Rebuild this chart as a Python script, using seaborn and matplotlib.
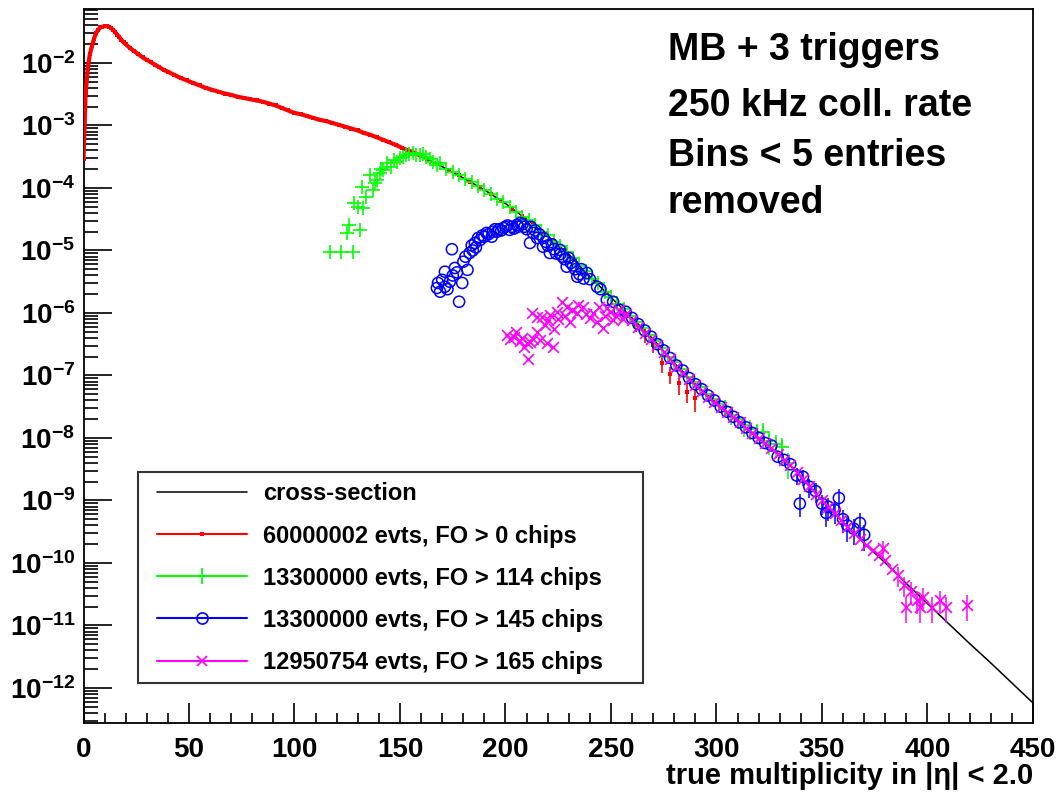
import numpy as np
import pandas as pd
import matplotlib
matplotlib.use("Agg")
import matplotlib.pyplot as plt
import seaborn as sns
from matplotlib.lines import Line2D
from matplotlib.patches import Rectangle
from matplotlib.ticker import FixedLocator, FixedFormatter, NullFormatter, MultipleLocator

# ---------------- data (stored as log10) ----------------
xsec_x = [0, 1, 2, 3, 4, 5, 6, 7, 8, 10, 12, 14, 16, 18, 20,
          25, 30, 35, 40, 45, 50, 55, 60, 65, 70, 75, 80, 85, 90, 95, 100,
          110, 120, 130, 140, 150, 160, 170, 180, 190, 200, 210, 220, 230, 240, 250,
          260, 270, 280, 290, 300, 310, 320, 330, 340, 350, 360, 370, 380, 390, 400,
          410, 420, 430, 440, 450]
xsec_log = [-3.54, -2.50, -2.10, -1.86, -1.73, -1.61, -1.52, -1.47, -1.43, -1.41, -1.42, -1.47, -1.55, -1.63, -1.70,
            -1.83, -1.95, -2.05, -2.14, -2.22, -2.30, -2.36, -2.42, -2.47, -2.51, -2.55, -2.58, -2.62, -2.67, -2.73, -2.80,
            -2.89, -2.98, -3.08, -3.20, -3.34, -3.49, -3.66, -3.84, -4.03, -4.25, -4.50, -4.77, -5.06, -5.42, -5.75,
            -6.08, -6.42, -6.80, -7.14, -7.44, -7.72, -8.00, -8.27, -8.62, -9.00, -9.35, -9.68, -10.00, -10.33, -10.65,
            -10.97, -11.29, -11.60, -11.92, -12.24]

red_x = list(range(0, 21)) + list(range(22, 41, 2)) + list(range(43, 161, 3))
red_log = [-3.54, -2.50, -2.10, -1.86, -1.73, -1.61, -1.52, -1.47, -1.43, -1.42, -1.41, -1.41, -1.42, -1.44,
           -1.47, -1.51, -1.55, -1.59, -1.63, -1.67, -1.70,
           -1.76, -1.81, -1.86, -1.91, -1.95, -1.99, -2.03, -2.07, -2.11, -2.14,
           -2.19, -2.24, -2.28, -2.32, -2.36, -2.40, -2.43, -2.46, -2.49, -2.51,
           -2.54, -2.56, -2.58, -2.60, -2.62, -2.65, -2.68, -2.72, -2.76, -2.80,
           -2.82, -2.85, -2.88, -2.91, -2.93, -2.96, -2.99, -3.02, -3.05, -3.08,
           -3.12, -3.15, -3.19, -3.23, -3.27, -3.31, -3.36, -3.40, -3.44, -3.49]
red2_x = list(range(163, 259, 5))
red2_log = [-3.54, -3.62, -3.71, -3.80, -3.90, -3.99, -4.09, -4.21, -4.33, -4.45,
            -4.58, -4.72, -4.85, -5.00, -5.16, -5.34, -5.50, -5.68, -5.85, -6.01]
red_tail_x = [262, 266, 270, 274, 278, 282, 286, 290]
red_tail_log = [-6.20, -6.35, -6.52, -6.80, -6.98, -7.12, -7.26, -7.36]
red_tail_err = [0.20, 0.25, 0.25, 0.30, 0.30, 0.35, 0.35, 0.40]

green_x = [117, 122, 127.5, 125, 131, 126, 128, 130, 132.5, 132, 134, 137, 139, 136, 140.5, 142, 144, 147,
           150, 153, 156, 159.5, 162.5, 165.5, 169,
           172, 175, 178, 181, 184, 187, 190, 193, 196, 199, 202, 205, 208, 211, 214, 217, 220, 223, 226,
           229, 232, 235, 238, 241, 244, 247, 250, 253, 256, 259, 262, 265, 268, 271, 274, 277, 280, 283,
           286, 289, 292, 295, 298,
           138, 141, 145.5, 148.5, 151.5, 154.5, 157.5, 161, 164, 167.5]
green_log = [-5.02, -5.02, -5.03, -4.72, -4.67, -4.59, -4.24, -4.30, -4.32, -3.98, -4.14, -4.03, -3.87, -3.79,
             -3.76, -3.71, -3.60, -3.55, -3.52, -3.47, -3.44, -3.47, -3.50, -3.58, -3.60,
             -3.70, -3.75, -3.80, -3.86, -3.90, -3.97, -4.03, -4.09, -4.17, -4.22, -4.30, -4.38, -4.46, -4.52,
             -4.60, -4.70, -4.76, -4.86, -4.93, -5.03, -5.12, -5.25, -5.33, -5.45, -5.52, -5.66, -5.74, -5.85,
             -5.93, -6.05, -6.15, -6.24, -6.36, -6.45, -6.56, -6.70, -6.78, -6.90, -7.02, -7.10, -7.18, -7.30, -7.38,
             -3.92, -3.70, -3.66, -3.58, -3.50, -3.46, -3.48, -3.45, -3.54, -3.63]
green_tail_x = [301, 304, 307, 310, 313, 316, 319, 322, 325, 328, 331, 334]
green_tail_log = [-7.46, -7.50, -7.64, -7.70, -7.80, -7.85, -7.90, -7.90, -8.05, -8.10, -8.15, -8.40]
green_tail_err = [0.25, 0.30, 0.30, 0.30, 0.35, 0.35, 0.35, 0.40, 0.40, 0.40, 0.40, 0.45]

blue_x = [167.5, 169, 171.3, 173.6, 170, 178, 174.6, 171.3, 176, 180, 182, 179.5, 183, 185.5, 186, 188, 189,
          191, 193.5, 194, 196, 197, 199, 200, 202, 203, 205.5, 207, 209, 211.6, 213, 215, 217.8, 219, 221,
          223, 225.8, 227, 229, 231, 234, 236, 238.6, 240, 243.4, 245, 248, 251, 254,
          184, 187, 190, 192, 195, 198, 201, 204, 206, 208, 210, 212, 214, 216, 218, 220, 222, 224, 226,
          228, 230, 232, 233, 235, 237, 172.5, 175, 177, 181, 184.5, 168,
          257, 260, 263, 266, 269, 272, 275, 278, 281, 284, 287, 290, 293, 296, 299, 302, 305, 308, 311,
          314, 317, 320, 323, 326, 329, 332, 335]
blue_log = [-5.60, -5.66, -5.58, -5.50, -5.47, -5.82, -4.98, -5.34, -5.28, -5.18, -5.31, -5.52, -5.04, -4.88,
            -4.95, -4.83, -4.76, -4.72, -4.78, -4.70, -4.70, -4.66, -4.64, -4.62, -4.67, -4.62, -4.59, -4.56,
            -4.62, -4.88, -4.72, -4.80, -4.94, -4.86, -5.04, -4.98, -4.99, -5.10, -5.26, -5.20, -5.42, -5.30,
            -5.36, -5.46, -5.58, -5.62, -5.79, -5.82, -5.95,
            -4.92, -4.80, -4.78, -4.74, -4.66, -4.68, -4.60, -4.65, -4.62, -4.58, -4.66, -4.62, -4.68, -4.74,
            -4.80, -4.92, -4.90, -5.05, -5.06, -5.14, -5.12, -5.24, -5.30, -5.38, -5.45, -5.62, -5.40, -5.35,
            -5.10, -5.00, -5.52,
            -5.98, -6.08, -6.18, -6.28, -6.38, -6.50, -6.60, -6.72, -6.84, -6.92, -7.04, -7.14, -7.22, -7.32,
            -7.40, -7.50, -7.58, -7.66, -7.75, -7.83, -7.92, -8.00, -8.08, -8.12, -8.30, -8.35, -8.42]
blue_tail_x = [338, 339.5, 341, 344, 347, 350, 352, 353, 356, 358, 360, 362, 365, 368, 370]
blue_tail_log = [-8.60, -9.05, -8.62, -8.78, -8.85, -9.05, -9.20, -9.10, -9.15, -8.96, -9.30, -9.40, -9.45,
                 -9.36, -9.55]
blue_tail_err = [0.30, 0.40, 0.30, 0.35, 0.35, 0.35, 0.40, 0.40, 0.40, 0.40, 0.40, 0.45, 0.45, 0.45, 0.45]

mag_x = [200.6, 203.8, 206.9, 210, 210.8, 213.2, 216.4, 219.5, 222.7, 212.4, 214.8, 217.2, 221.1, 224.3,
         226.6, 229, 230.5, 233.7, 236.9, 240, 243.2, 246.3, 248, 251,
         202, 205, 208, 209, 211.5, 215, 218.5, 220, 223, 225, 228, 231.5, 234.5, 238, 241.5, 244.5, 247,
         249.5, 252.5, 255.5,
         254, 257, 260, 263, 266, 269, 272, 275, 278, 281, 284, 287, 290, 293, 296, 299, 302, 305, 308,
         311, 314, 317, 320, 323, 326, 329, 332, 335, 338, 341, 344, 347, 350, 353, 356, 359, 362, 365,
         368, 371, 374, 377, 380, 383]
mag_log = [-6.35, -6.38, -6.45, -6.48, -6.73, -6.42, -6.43, -6.48, -6.54, -6.00, -6.07, -6.06, -6.03, -5.98,
           -5.82, -5.90, -6.14, -6.00, -5.90, -6.08, -6.14, -6.24, -5.92, -6.11,
           -6.42, -6.30, -6.40, -6.55, -6.47, -6.30, -6.20, -6.12, -6.25, -6.10, -6.05, -5.95, -5.88, -6.02,
           -6.00, -5.90, -6.05, -5.98, -6.05, -6.10,
           -5.95, -6.02, -6.12, -6.22, -6.32, -6.42, -6.52, -6.63, -6.74, -6.86, -6.96, -7.06, -7.16, -7.25,
           -7.34, -7.42, -7.50, -7.58, -7.67, -7.75, -7.84, -7.92, -8.00, -8.08, -8.16, -8.25, -8.35, -8.44,
           -8.55, -8.66, -8.77, -8.89, -9.00, -9.10, -9.20, -9.31, -9.42, -9.52, -9.62, -9.71, -9.80, -9.88,
           -9.95, -10.10]
mag_tail_x = [379, 386, 389, 390, 392, 395, 396.5, 398, 402, 406, 409, 418.6]
mag_tail_log = [-9.76, -10.20, -10.35, -10.70, -10.45, -10.59, -10.70, -10.55, -10.70, -10.59, -10.70, -10.67]
mag_tail_err = [0.30, 0.35, 0.35, 0.45, 0.40, 0.40, 0.45, 0.40, 0.45, 0.40, 0.45, 0.45]

legend_labels = ["cross-section",
                 "60000002 evts, FO > 0 chips",
                 "13300000 evts, FO > 114 chips",
                 "13300000 evts, FO > 145 chips",
                 "12950754 evts, FO > 165 chips"]
note_lines = ["MB + 3 triggers", "250 kHz coll. rate", "Bins < 5 entries", "removed"]
x_ticks = [0, 50, 100, 150, 200, 250, 300, 350, 400, 450]
y_exponents = [-12, -11, -10, -9, -8, -7, -6, -5, -4, -3, -2]
x_label = "true multiplicity in |\u03b7| < 2.0"

# ---------------- style ----------------
sns.set_style("ticks")
plt.rcParams["font.family"] = ["Liberation Sans", "DejaVu Sans"]
plt.rcParams["font.weight"] = "bold"
plt.rcParams["text.color"] = "black"
plt.rcParams["axes.labelcolor"] = "black"
plt.rcParams["xtick.color"] = "black"
plt.rcParams["ytick.color"] = "black"
plt.rcParams["mathtext.fontset"] = "custom"
plt.rcParams["mathtext.rm"] = "Liberation Sans:bold"
plt.rcParams["mathtext.bf"] = "Liberation Sans:bold"
plt.rcParams["mathtext.it"] = "Liberation Sans:bold"
plt.rcParams["mathtext.default"] = "bf"

RED, GREEN, BLUE, MAG = "#ff0000", "#00ff00", "#0000ff", "#ff00ff"


def to_df(xs, logs):
    return pd.DataFrame({"x": np.asarray(xs, float), "y": np.power(10.0, np.asarray(logs, float))})


fig = plt.figure(figsize=(10.61, 7.94), dpi=100)
ax = fig.add_axes([0.0787, 0.0894, 0.8949, 0.8993])
ax.set_yscale("log")

# cross-section
d = to_df(xsec_x, xsec_log)
sns.lineplot(data=d, x="x", y="y", ax=ax, color="black", lw=1.1, estimator=None, sort=False, zorder=2)

# red series
d = to_df(red_x, red_log)
sns.lineplot(data=d, x="x", y="y", ax=ax, color=RED, lw=3.0, estimator=None, sort=False, zorder=3,
             marker="s", markersize=3.5, markeredgewidth=0)
d = to_df(red2_x, red2_log)
sns.scatterplot(data=d, x="x", y="y", ax=ax, color=RED, marker="s", s=12, linewidth=0, zorder=3)
d = to_df(red_tail_x, red_tail_log)
ax.errorbar(d["x"], d["y"], yerr=[d["y"] * np.array(red_tail_err), d["y"] * np.array(red_tail_err)],
            fmt="none", ecolor=RED, elinewidth=1.2, capsize=0, zorder=3)
sns.scatterplot(data=d, x="x", y="y", ax=ax, color=RED, marker="s", s=12, linewidth=0, zorder=3)


def draw_series(xs, logs, txs, tlogs, terr, color, marker, size, z, hollow=False):
    d1 = to_df(xs, logs)
    d2 = to_df(txs, tlogs)
    ax.errorbar(d2["x"], d2["y"], yerr=[d2["y"] * np.array(terr), d2["y"] * np.array(terr)],
                fmt="none", ecolor=color, elinewidth=1.1, capsize=0, zorder=z)
    dd = pd.concat([d1, d2], ignore_index=True)
    if hollow:
        sns.scatterplot(data=dd, x="x", y="y", ax=ax, marker=marker, s=size, facecolors="none",
                        edgecolor=color, linewidth=1.1, zorder=z)
    else:
        sns.scatterplot(data=dd, x="x", y="y", ax=ax, marker=marker, s=size, color=color,
                        linewidth=1.2, zorder=z)


draw_series(green_x, green_log, green_tail_x, green_tail_log, green_tail_err, GREEN, "+", 110, 4)
draw_series(blue_x, blue_log, blue_tail_x, blue_tail_log, blue_tail_err, BLUE, "o", 64, 5, hollow=True)
draw_series(mag_x, mag_log, mag_tail_x, mag_tail_log, mag_tail_err, MAG, "x", 60, 6)

# ---------------- axes ----------------
ax.set_xlim(0, 450)
ax.set_ylim(2.75e-13, 0.0731)
ax.set_xlabel("")
ax.set_ylabel("")

ax.xaxis.set_major_locator(FixedLocator(x_ticks))
ax.xaxis.set_major_formatter(FixedFormatter([str(v) for v in x_ticks]))
ax.xaxis.set_minor_locator(MultipleLocator(10))

yt = [10.0 ** e for e in y_exponents]
ax.yaxis.set_major_locator(FixedLocator(yt))
ax.yaxis.set_major_formatter(FixedFormatter([r"$10^{%d}$" % e for e in y_exponents]))
minor = [m * 10.0 ** e for e in range(-13, -1) for m in range(2, 10)]
ax.yaxis.set_minor_locator(FixedLocator(minor))
ax.yaxis.set_minor_formatter(NullFormatter())

ax.tick_params(axis="both", which="both", direction="in", top=False, right=False, colors="black",
               width=1.2)
ax.tick_params(axis="y", which="major", length=20, labelsize=20, pad=6)
ax.tick_params(axis="y", which="minor", length=10)
ax.tick_params(axis="x", which="major", length=14.4, labelsize=20, pad=10)
ax.tick_params(axis="x", which="minor", length=7.2)
for lab in ax.get_xticklabels() + ax.get_yticklabels():
    lab.set_fontweight("bold")
    lab.set_color("black")
for sp in ax.spines.values():
    sp.set_visible(True)
    sp.set_color("black")
    sp.set_linewidth(1.3)

fig.text(1033 / 1061, 1 - 784 / 794, x_label, ha="right", va="baseline", fontsize=21, fontweight="bold",
         color="black")

# notes
note_base = [60, 116, 166, 213]
for t, yb in zip(note_lines, note_base):
    fig.text(668 / 1061, 1 - yb / 794, t, ha="left", va="baseline", fontsize=27, fontweight="bold",
             color="black")

# ---------------- legend ----------------
handles = [
    Line2D([], [], color="black", lw=1.1),
    Line2D([], [], color=RED, lw=1.5, marker="s", markersize=3.5, markeredgewidth=0),
    Line2D([], [], color=GREEN, lw=1.5, marker="+", markersize=11, markeredgewidth=1.3),
    Line2D([], [], color=BLUE, lw=1.5, marker="o", markersize=8, markerfacecolor="none", markeredgewidth=1.2),
    Line2D([], [], color=MAG, lw=1.5, marker="x", markersize=7.5, markeredgewidth=1.2),
]
box = Rectangle((0.0574, 0.056), 0.5316, 0.2955, transform=ax.transAxes, facecolor="white",
                edgecolor="#333333", lw=1.5, zorder=8)
ax.add_patch(box)
leg = ax.legend(handles, legend_labels, loc="upper left", bbox_to_anchor=(0.0774, 0.337), frameon=False,
                borderpad=0, borderaxespad=0, handlelength=3.8, handletextpad=0.68, labelspacing=0.81,
                prop={"weight": "bold", "size": 17})
for t in leg.get_texts():
    t.set_color("black")
leg.set_zorder(9)

fig.savefig("out.png", dpi=100)
